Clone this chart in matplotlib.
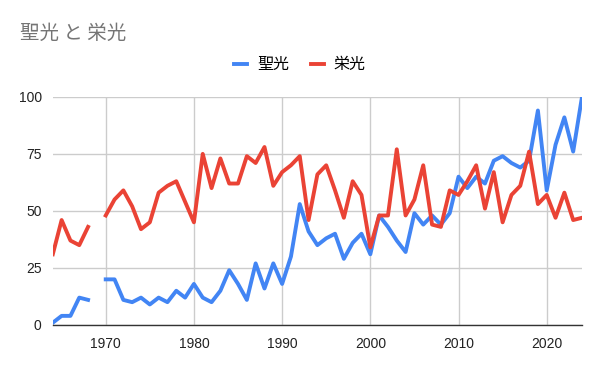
import numpy as np
import matplotlib.pyplot as plt

plt.rcParams['font.family'] = ['Liberation Sans', 'Noto Sans CJK JP', 'DejaVu Sans']

years = list(range(1964, 2025))

# 1969 has no value for either series (gap in both lines)
seiko = [1, 4, 4, 12, 11, None,
         20, 20, 11, 10, 12, 9, 12, 10, 15, 12,
         18, 12, 10, 15, 24, 18, 11, 27, 16, 27,
         18, 30, 53, 41, 35, 38, 40, 29, 36, 40,
         31, 48, 43, 37, 32, 49, 44, 48, 44, 49,
         65, 60, 65, 62, 72, 74, 71, 69, 72, 94,
         59, 79, 91, 76, 100]
eiko = [31, 46, 37, 35, 43, None,
        48, 55, 59, 52, 42, 45, 58, 61, 63, 54,
        45, 75, 60, 73, 62, 62, 74, 71, 78, 61,
        67, 70, 74, 46, 66, 70, 59, 47, 63, 57,
        34, 48, 48, 77, 48, 55, 70, 44, 43, 59,
        57, 63, 70, 51, 67, 45, 57, 61, 76, 53,
        57, 47, 58, 46, 47]

s1 = np.array([np.nan if v is None else v for v in seiko], dtype=float)
s2 = np.array([np.nan if v is None else v for v in eiko], dtype=float)

fig = plt.figure(figsize=(6, 3.71), dpi=100)
ax = fig.add_axes([0.088, 0.124, 0.882, 0.615])

ax.plot(years, s1, color='#4285F4', lw=2.8, label='聖光')
ax.plot(years, s2, color='#EA4335', lw=2.8, label='栄光')

ax.set_xlim(1964, 2024)
ax.set_ylim(0, 100)
ax.set_yticks([0, 25, 50, 75, 100])
ax.set_xticks([1970, 1980, 1990, 2000, 2010, 2020])
ax.grid(True, color='#cccccc', lw=1)
ax.set_axisbelow(True)
for s in ['top', 'right', 'left']:
    ax.spines[s].set_visible(False)
ax.spines['bottom'].set_color('#333333')
ax.spines['bottom'].set_linewidth(1)
ax.spines['bottom'].set_zorder(3)
ax.tick_params(length=0, labelsize=10, labelcolor='#222222')
ax.tick_params(axis='y', pad=8)
ax.tick_params(axis='x', pad=9)

fig.text(0.033, 0.91, '聖光 と 栄光', fontsize=14, color='#757575',
         family=['Noto Sans CJK JP', 'DejaVu Sans'], va='center')

fig.legend(loc='center', bbox_to_anchor=(0.5, 0.825), ncol=2, frameon=False,
           handlelength=0.8, handletextpad=0.6, columnspacing=1.4,
           prop={'family': ['Noto Sans CJK JP'], 'size': 11.5})

fig.savefig('out.png', dpi=100)
